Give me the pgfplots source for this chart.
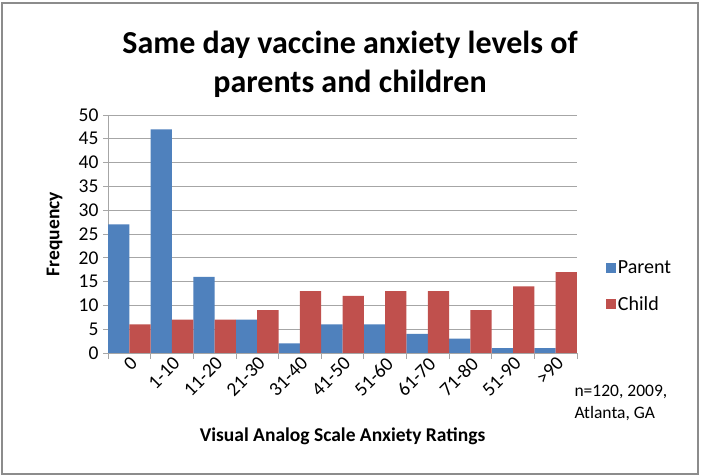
\documentclass[border=0pt]{standalone}
\usepackage{pgfplots}
\pgfplotsset{compat=1.18}
\usepackage{fontspec}
\setmainfont{Carlito}
\definecolor{parentc}{HTML}{4F81BD}
\definecolor{childc}{HTML}{C0504D}
\definecolor{gridc}{HTML}{A6A6A6}
\definecolor{framec}{HTML}{8C8C8C}
\begin{document}
\begin{tikzpicture}
\useasboundingbox (0pt,0pt) rectangle (701pt,476pt);
\fill[white] (0pt,0pt) rectangle (701pt,476pt);
\draw[framec, line width=1.5pt] (2pt,2pt) rectangle (698pt,473pt);
\node[font=\fontsize{32}{39}\selectfont\bfseries, align=center] at (350pt,412pt) {Same day vaccine anxiety levels of\\parents and children};
\begin{axis}[
  at={(108pt,123pt)}, anchor=south west,
  scale only axis, width=469pt, height=238pt,
  ybar=0pt, bar width=21.3pt,
  xmin=-0.5, xmax=10.5, ymin=0, ymax=50,
  ytick={0,5,...,50},
  xtick={0,...,10},
  xticklabels={0,1-10,11-20,21-30,31-40,41-50,51-60,61-70,71-80,51-90,>90},
  minor xtick={-0.5,0.5,...,10.5},
  major x tick style={draw=none},
  minor x tick style={gridc, line width=0.8pt},
  minor tick length=6pt,
  major tick length=5pt,
  y tick style={gridc, line width=0.8pt},
  tick align=outside,
  axis x line*=bottom, axis y line*=left,
  axis line style={gridc, line width=0.8pt, -},
  ymajorgrids, grid style={gridc, line width=0.8pt},
  tick label style={font=\fontsize{19.5}{22}\selectfont},
  /pgf/number format/assume math mode=true,
  xticklabel style={rotate=45, anchor=east, xshift=5pt, yshift=-5pt},
  yticklabel style={xshift=-1pt},
  xlabel={\textbf{Visual Analog Scale Anxiety Ratings}},
  ylabel={\textbf{Frequency}},
  label style={font=\fontsize{19.5}{23}\selectfont\bfseries},
  xlabel style={at={(0.5,0)}, anchor=south, yshift=-95pt},
  ylabel style={at={(0,0.5)}, anchor=south, yshift=42pt},
  legend style={at={(1.055,0.405)}, anchor=north west, draw=none, fill=none,
    font=\fontsize{20}{23}\selectfont, row sep=17pt},
  legend image code/.code={\fill[#1] (0pt,-5pt) rectangle (10pt,5pt);},
  legend cell align=left,
  clip=false,
]
\addplot[fill=parentc, draw=none] coordinates {(0,27) (1,47) (2,16) (3,7) (4,2) (5,6) (6,6) (7,4) (8,3) (9,1) (10,1)};
\addplot[fill=childc, draw=none] coordinates {(0,6) (1,7) (2,7) (3,9) (4,13) (5,12) (6,13) (7,13) (8,9) (9,14) (10,17)};
\legend{Parent, Child}
\end{axis}
\node[anchor=north west, align=left, font=\fontsize{17.5}{21.5}\selectfont] at (571pt,94pt) {n=120, 2009,\\Atlanta, GA};
\end{tikzpicture}
\end{document}
